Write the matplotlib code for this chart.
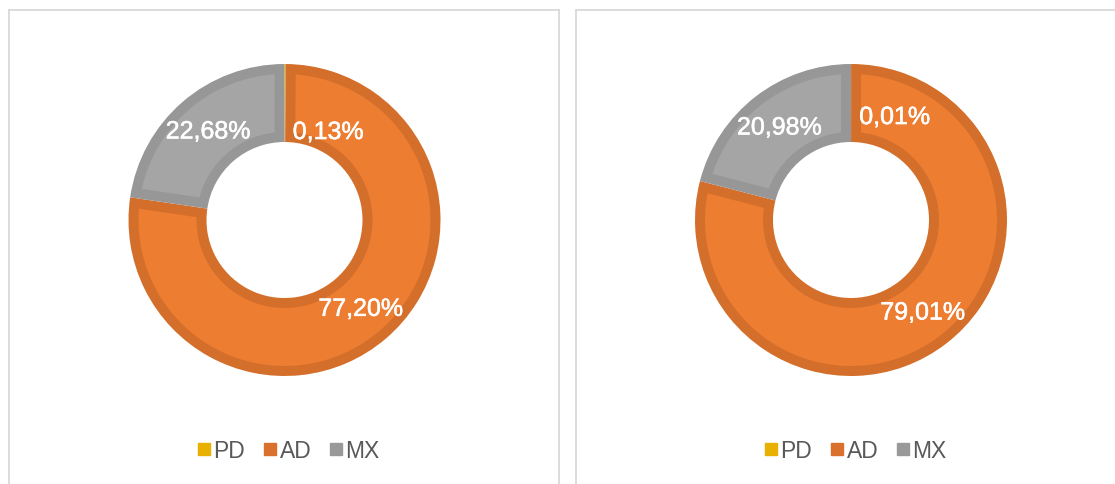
import numpy as np
import matplotlib
matplotlib.use("Agg")
import matplotlib.pyplot as plt
import matplotlib.patheffects as pe
from matplotlib.lines import Line2D
from matplotlib.patches import Polygon

# ---------------- data ----------------
categories = ["PD", "AD", "MX"]
values_left = [0.13, 77.20, 22.68]
values_right = [0.01, 79.01, 20.98]

fill_colors = ["#FFC000", "#ED7D31", "#A5A5A5"]
edge_colors = ["#E2AA00", "#D46F2B", "#979797"]
legend_colors = ["#E8B000", "#D9702C", "#999999"]

plt.rcParams["font.family"] = ["Liberation Sans", "DejaVu Sans"]

W, H = 1115, 485
fig = plt.figure(figsize=(W / 100, H / 100), dpi=100)
fig.patch.set_facecolor("white")

R_PX = 156          # outer radius in pixels
LIM = 1.2
RING_W = 0.5
BORDER = 10 / R_PX  # inner border band, data units


def px_axes(cx, cy_top):
    side = 2 * LIM * R_PX
    left = (cx - side / 2) / W
    bottom = (H - cy_top - side / 2) / H
    return fig.add_axes([left, bottom, side / W, side / H])


def frame(x0, x1, y_top):
    kw = dict(color="#D9D9D9", lw=1.3, transform=fig.transFigure)
    fig.add_artist(Line2D([x0 / W, x1 / W], [1 - y_top / H] * 2, **kw))
    fig.add_artist(Line2D([x0 / W] * 2, [1 - y_top / H, -0.05], **kw))
    if x1 < W:
        fig.add_artist(Line2D([x1 / W] * 2, [1 - y_top / H, -0.05], **kw))


def inset_ring(t1, t2, r_out, r_in, d):
    # polygon of a ring sector shrunk by d on every side
    ro, ri = r_out - d, r_in + d
    ao, ai = np.degrees(np.arcsin(d / ro)), np.degrees(np.arcsin(d / ri))
    if t2 - t1 <= 2 * ai:
        return None
    outer = np.linspace(t1 + ao, t2 - ao, 120)
    inner = np.linspace(t2 - ai, t1 + ai, 120)
    pts = [(ro * np.cos(np.radians(a)), ro * np.sin(np.radians(a))) for a in outer]
    pts += [(ri * np.cos(np.radians(a)), ri * np.sin(np.radians(a))) for a in inner]
    return np.array(pts)


def donut(ax, values, pd_label_pos):
    wedges, _ = ax.pie(values, startangle=90, counterclock=False,
                       radius=1.0, colors=edge_colors,
                       wedgeprops=dict(width=RING_W, linewidth=0))
    for w, fc in zip(wedges, fill_colors):
        t1, t2 = sorted((w.theta1, w.theta2))
        pts = inset_ring(t1, t2, 1.0, 1.0 - RING_W, BORDER)
        if pts is not None:
            ax.add_patch(Polygon(pts, closed=True, facecolor=fc, edgecolor="none"))
    r_mid = 1.0 - RING_W / 2
    for i, (w, v) in enumerate(zip(wedges, values)):
        txt = f"{v:.2f}%".replace(".", ",")
        if i == 0:
            x, y = pd_label_pos
        else:
            ang = np.deg2rad((w.theta1 + w.theta2) / 2)
            x, y = r_mid * np.cos(ang), r_mid * np.sin(ang)
        ax.text(x, y, txt, color="white", fontsize=18, ha="center", va="center",
                path_effects=[pe.withStroke(linewidth=0.4, foreground="white")])
    ax.set_xlim(-LIM, LIM)
    ax.set_ylim(-LIM, LIM)
    ax.set_aspect("equal")
    ax.axis("off")


def legend(cx):
    handles = [Line2D([], [], marker="s", ls="none", color=c, markersize=8)
               for c in legend_colors]
    fig.legend(handles, categories, loc="center",
               bbox_to_anchor=(cx / W, 1 - 452 / H), ncol=3, frameon=False,
               fontsize=16.5, labelcolor="#595959", handletextpad=0.05,
               columnspacing=0.75, handlelength=0.7)


frame(8.5, 559, 11)
frame(576, W + 10, 11)

ax_l = px_axes(284.5, 221)
donut(ax_l, values_left, (0.28, 0.564))
ax_r = px_axes(851, 221)
donut(ax_r, values_right, (0.28, 0.66))

legend(288)
legend(855)

fig.savefig("out.png", dpi=100)
